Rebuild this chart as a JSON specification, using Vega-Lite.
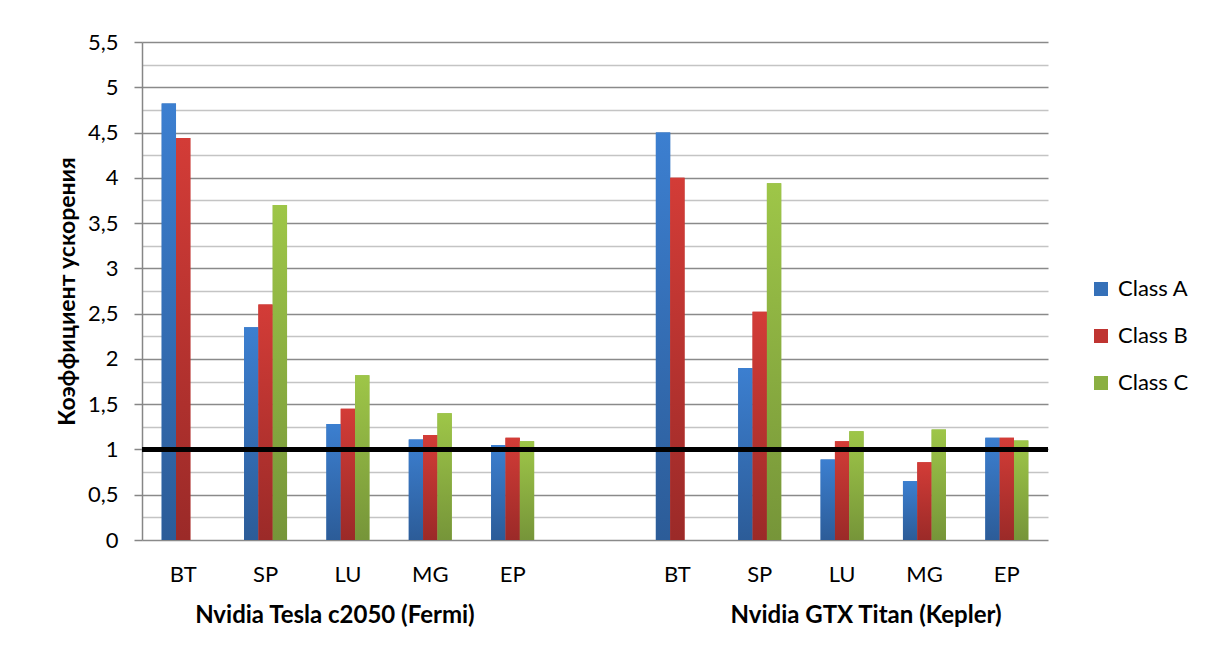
{
  "$schema": "https://vega.github.io/schema/vega-lite/v6.json",
  "width": 906,
  "height": 498,
  "autosize": {"type": "none"},
  "padding": {"left": 142, "top": 42, "right": 160, "bottom": 115},
  "background": "white",
  "config": {
    "font": "Lato",
    "view": {"stroke": null}
  },
  "data": {
    "values": [
      {"cat": "F BT", "Class": "Class A", "value": 4.82},
      {"cat": "F BT", "Class": "Class B", "value": 4.44},
      {"cat": "F SP", "Class": "Class A", "value": 2.35},
      {"cat": "F SP", "Class": "Class B", "value": 2.6},
      {"cat": "F SP", "Class": "Class C", "value": 3.7},
      {"cat": "F LU", "Class": "Class A", "value": 1.28},
      {"cat": "F LU", "Class": "Class B", "value": 1.45},
      {"cat": "F LU", "Class": "Class C", "value": 1.82},
      {"cat": "F MG", "Class": "Class A", "value": 1.11},
      {"cat": "F MG", "Class": "Class B", "value": 1.16},
      {"cat": "F MG", "Class": "Class C", "value": 1.4},
      {"cat": "F EP", "Class": "Class A", "value": 1.05},
      {"cat": "F EP", "Class": "Class B", "value": 1.13},
      {"cat": "F EP", "Class": "Class C", "value": 1.09},
      {"cat": "K BT", "Class": "Class A", "value": 4.5},
      {"cat": "K BT", "Class": "Class B", "value": 4.0},
      {"cat": "K SP", "Class": "Class A", "value": 1.9},
      {"cat": "K SP", "Class": "Class B", "value": 2.52},
      {"cat": "K SP", "Class": "Class C", "value": 3.94},
      {"cat": "K LU", "Class": "Class A", "value": 0.89},
      {"cat": "K LU", "Class": "Class B", "value": 1.09},
      {"cat": "K LU", "Class": "Class C", "value": 1.2},
      {"cat": "K MG", "Class": "Class A", "value": 0.65},
      {"cat": "K MG", "Class": "Class B", "value": 0.86},
      {"cat": "K MG", "Class": "Class C", "value": 1.22},
      {"cat": "K EP", "Class": "Class A", "value": 1.13},
      {"cat": "K EP", "Class": "Class B", "value": 1.13},
      {"cat": "K EP", "Class": "Class C", "value": 1.1}
    ]
  },
  "encoding": {
    "x": {
      "field": "cat",
      "type": "nominal",
      "sort": null,
      "scale": {
        "domain": ["F BT", "F SP", "F LU", "F MG", "F EP", "--", "K BT", "K SP", "K LU", "K MG", "K EP"],
        "paddingInner": 0.478,
        "paddingOuter": 0.239
      },
      "axis": {
        "title": null,
        "labelExpr": "substring(datum.value, 2)",
        "labelAngle": 0,
        "labelFontSize": 22,
        "labelColor": "#000000",
        "labelPadding": 24,
        "ticks": false,
        "domain": false,
        "grid": false
      }
    },
    "y": {
      "field": "value",
      "type": "quantitative",
      "scale": {"domain": [0, 5.5], "nice": false, "zero": true},
      "axis": {
        "title": "Коэффициент ускорения",
        "titleFontSize": 23,
        "titleFontWeight": "bold",
        "titleColor": "#000000",
        "titlePadding": 8,
        "values": [0, 0.25, 0.5, 0.75, 1, 1.25, 1.5, 1.75, 2, 2.25, 2.5, 2.75, 3, 3.25, 3.5, 3.75, 4, 4.25, 4.5, 4.75, 5, 5.25, 5.5],
        "labelExpr": "datum.value % 0.5 == 0 ? replace(datum.value + '', '.', ',') : ''",
        "labelFontSize": 22,
        "labelColor": "#000000",
        "labelPadding": 16,
        "tickSize": 8,
        "tickColor": "#868686",
        "tickWidth": 1.5,
        "tickOpacity": {"condition": {"test": "datum.value % 0.5 == 0", "value": 1}, "value": 0},
        "domainColor": "#868686",
        "domainWidth": 1.5,
        "grid": true,
        "gridColor": {"condition": {"test": "datum.value % 0.5 == 0", "value": "#8a8a8a"}, "value": "#c4c4c4"},
        "gridWidth": 1.5
      }
    }
  },
  "layer": [
    {
      "mark": {"type": "bar"},
      "encoding": {
        "xOffset": {"field": "Class", "type": "nominal", "scale": {"domain": ["Class A", "Class B", "Class C"], "paddingInner": 0, "paddingOuter": 0}},
        "color": {
          "field": "Class",
          "type": "nominal",
          "scale": {"domain": ["Class A", "Class B", "Class C"], "range": ["#3570b8", "#bf3431", "#8aaf42"]},
          "legend": {
            "title": null,
            "orient": "none",
            "legendX": 948,
            "legendY": 236,
            "padding": 0,
            "symbolType": "square",
            "symbolSize": 196,
            "symbolStrokeWidth": 0,
            "labelFontSize": 22,
            "labelColor": "#000000",
            "labelOffset": 6,
            "rowPadding": 25
          }
        }
      }
    },
    {
      "mark": {"type": "bar"},
      "encoding": {
        "xOffset": {"field": "Class", "type": "nominal"},
        "fill": {
          "condition": [
            {"test": "datum.Class == 'Class A'", "value": {"gradient": "linear", "x1": 0, "y1": 0, "x2": 0, "y2": 1, "stops": [{"offset": 0, "color": "#3c7fd0"}, {"offset": 1, "color": "#2c5c98"}]}},
            {"test": "datum.Class == 'Class B'", "value": {"gradient": "linear", "x1": 0, "y1": 0, "x2": 0, "y2": 1, "stops": [{"offset": 0, "color": "#d33c37"}, {"offset": 1, "color": "#9b2a28"}]}}
          ],
          "value": {"gradient": "linear", "x1": 0, "y1": 0, "x2": 0, "y2": 1, "stops": [{"offset": 0, "color": "#9ec648"}, {"offset": 1, "color": "#769539"}]}
        }
      }
    },
    {
      "mark": {"type": "rule", "color": "#000000", "strokeWidth": 5},
      "encoding": {"y": {"datum": 1}, "x": null}
    },
    {
      "data": {"values": [{"cat": "F LU", "label": "Nvidia Tesla c2050 (Fermi)", "pos": -0.84}]},
      "mark": {"type": "text", "fontSize": 24, "fontWeight": "bold", "color": "#000000", "baseline": "middle", "dx": -13},
      "encoding": {
        "y": {"field": "pos", "type": "quantitative"},
        "text": {"field": "label"}
      }
    },
    {
      "data": {"values": [{"cat": "K LU", "label": "Nvidia GTX Titan (Kepler)", "pos": -0.84}]},
      "mark": {"type": "text", "fontSize": 24, "fontWeight": "bold", "color": "#000000", "baseline": "middle", "dx": 24},
      "encoding": {
        "y": {"field": "pos", "type": "quantitative"},
        "text": {"field": "label"}
      }
    }
  ]
}
